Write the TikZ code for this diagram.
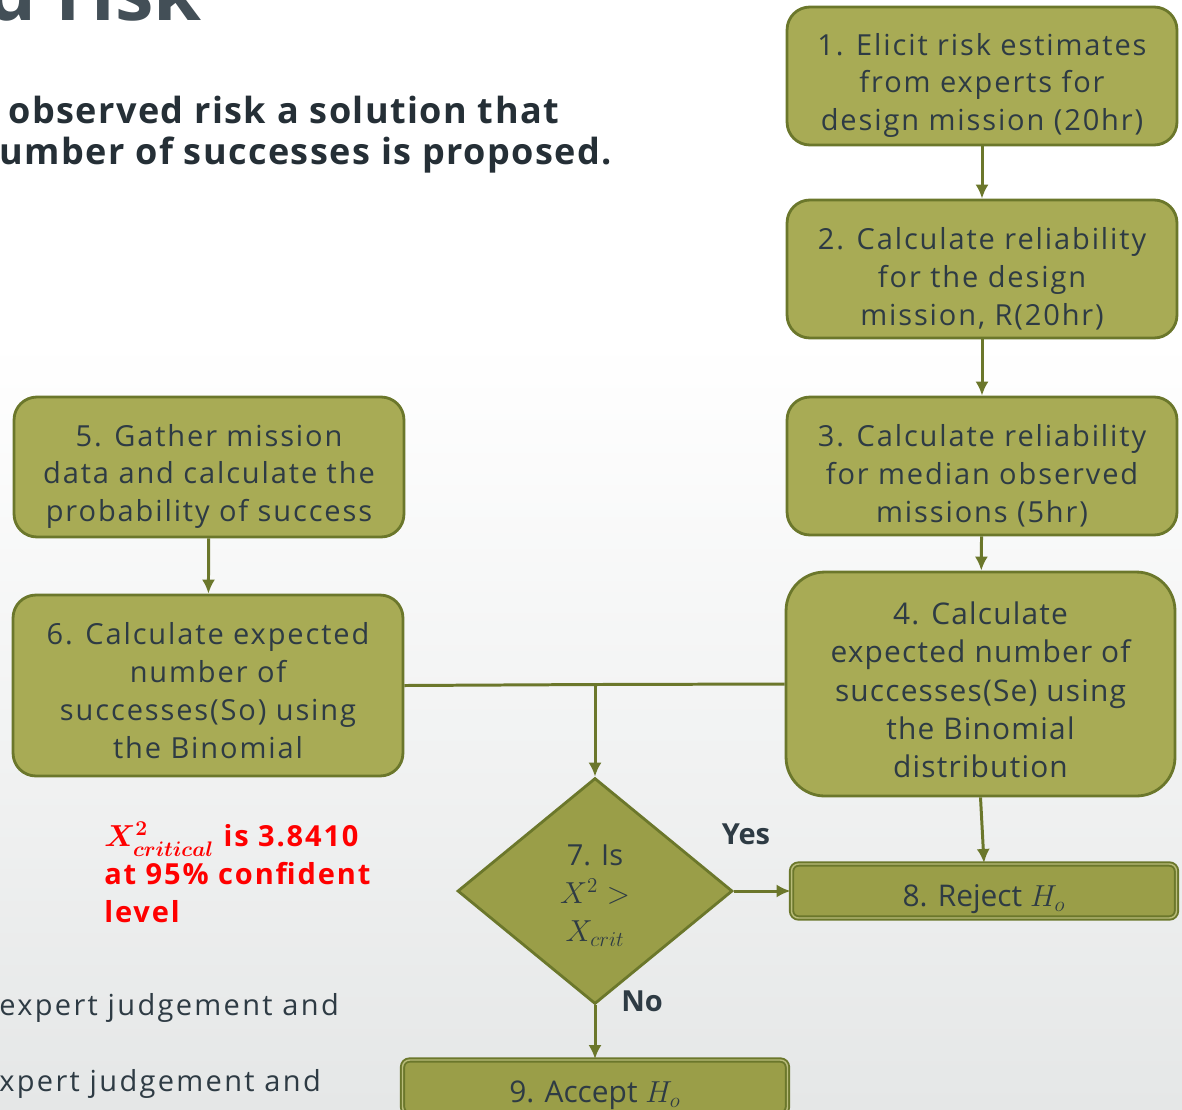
\documentclass[tikz,border=0pt]{standalone}
\usepackage{fontspec}
\setmainfont{Open Sans}
\newfontfamily\spacedfont[LetterSpace=6.5]{Open Sans}
\newfontfamily\slidefont[LetterSpace=4]{Open Sans}
\newfontfamily\widefont[LetterSpace=8]{Open Sans}
\usepackage{tikz}
\usetikzlibrary{shapes.geometric}
\usetikzlibrary{arrows.meta}
\tikzset{>={Latex[length=8pt,width=7.5pt]}}
\usepackage{xcolor}
\definecolor{boxfill}{HTML}{A8AB55}
\definecolor{boxdark}{HTML}{9A9E48}
\definecolor{boxline}{HTML}{6B772B}
\definecolor{boxshine}{HTML}{B9BC7A}
\definecolor{inktext}{HTML}{2E3B44}
\definecolor{alertred}{HTML}{FF0000}
\definecolor{bglow}{HTML}{E5E7E7}
\tikzstyle{stepbox}=[draw=boxline,fill=boxfill,line width=1.6pt,rounded corners=13pt,text=inktext,align=center,minimum width=7.8cm,inner sep=2pt,text height=66.5pt,font=\spacedfont\fontsize{16.5}{21.6}\selectfont]
\tikzstyle{endbox}=[draw=boxline,double=boxshine,double distance=0.8pt,line width=1.1pt,fill=boxdark,rounded corners=4pt,text=inktext,minimum width=7.7cm,minimum height=1.08cm,inner ysep=0pt,text height=22pt,text depth=4pt,font=\fontsize{17}{21.6}\selectfont]
\tikzstyle{decision}=[diamond,draw=boxline,fill=boxdark,line width=1.6pt,text=inktext,align=center,minimum width=5.5cm,minimum height=4.52cm,inner sep=0pt,text height=60pt,font=\fontsize{16.5}{21.6}\selectfont]
\tikzstyle{flow}=[draw=boxline,line width=1.7pt]
\tikzstyle{answer}=[text=inktext,font=\bfseries\fontsize{16.5}{20}\selectfont]

\begin{document}
\begin{tikzpicture}[x=0.02cm,y=-0.02cm]
  \useasboundingbox (0,0) rectangle (1182,1109);
  \clip (0,0) rectangle (1182,1109);
  % slide background
  \fill[white] (0,0) rectangle (1182,340);
  \shade[top color=white,bottom color=bglow] (0,340) rectangle (1182,1109);
  % slide text cut by the crop
  \node[anchor=base east,inner sep=0pt,text=inktext!90!white,font=\bfseries\fontsize{44}{50}\selectfont] (title) at (202,20) {d risk};
  \node[anchor=west,inner sep=0pt,text=inktext!80!black,font=\slidefont\bfseries\fontsize{20.5}{25.5}\selectfont] (intro) at (8,110) {observed risk a solution that};
  \node[anchor=west,inner sep=0pt,text=inktext!80!black,font=\slidefont\bfseries\fontsize{20.5}{25.5}\selectfont] (introb) at (-1,155) {umber of successes is proposed.};
  \node[anchor=west,inner sep=0pt,text=inktext,font=\widefont\fontsize{16.5}{20}\selectfont] (bulleta) at (-1,1008) {expert judgement and};
  \node[anchor=west,inner sep=0pt,text=inktext,font=\widefont\fontsize{16.5}{20}\selectfont] (bulletb) at (-1,1084) {xpert judgement and};
  \node[anchor=north west,inner sep=0pt,text=alertred,align=left,font=\spacedfont\bfseries\boldmath\fontsize{16.5}{21.6}\selectfont] (critical) at (104,822) {$X^2_{critical}$ is 3.8410\\at 95\% confident\\level};
  % steps
  \node[stepbox,minimum height=2.76cm] (elicit) at (982,76) {1. Elicit risk estimates\\from experts for\\design mission (20hr)};
  \node[stepbox,minimum height=2.76cm] (reldesign) at (982,269) {2. Calculate reliability\\for the design\\mission, R(20hr)};
  \node[stepbox,minimum height=2.76cm] (relmedian) at (982,466) {3. Calculate reliability\\for median observed\\missions (5hr)};
  \node[stepbox,minimum height=4.48cm,minimum width=7.78cm,rounded corners=22pt,text height=107pt,font=\slidefont\fontsize{17}{21.8}\selectfont] (expected) at (980.5,684) {4. Calculate\\expected number of\\successes(Se) using\\the Binomial\\distribution};
  \node[stepbox,minimum height=2.8cm] (gather) at (209,467) {5. Gather mission\\data and calculate the\\probability of success};
  \node[stepbox,minimum height=3.62cm,text height=83.5pt] (observed) at (208,685.5) {6. Calculate expected\\number of\\successes(So) using\\the Binomial};
  \node[decision] (test) at (595,891) {7. Is\\$X^2>$\\$X_{crit}$};
  \node[endbox] (reject) at (984,891) {8. Reject $H_o$};
  \node[endbox] (accept) at (595,1087) {9. Accept $H_o$};
  % connectors
  \coordinate (join) at (595,684.5);
  \draw[flow,->] (elicit) -- (reldesign);
  \draw[flow,->] (reldesign) -- (relmedian);
  \draw[flow,->] (relmedian) -- (expected);
  \draw[flow,->] (gather) -- (observed);
  \draw[flow] (observed.east) -- (join);
  \draw[flow] (expected.west) -- (join);
  \draw[flow,->] (join) -- (test.north);
  \draw[flow,->] (expected.south) -- (reject.north);
  \draw[flow,->] (test.east) -- (reject.west);
  \draw[flow,->] (test.south) -- (accept.north);
  \node[answer] (yes) at (746,834) {Yes};
  \node[answer] (no) at (642,1001) {No};
\end{tikzpicture}
\end{document}
